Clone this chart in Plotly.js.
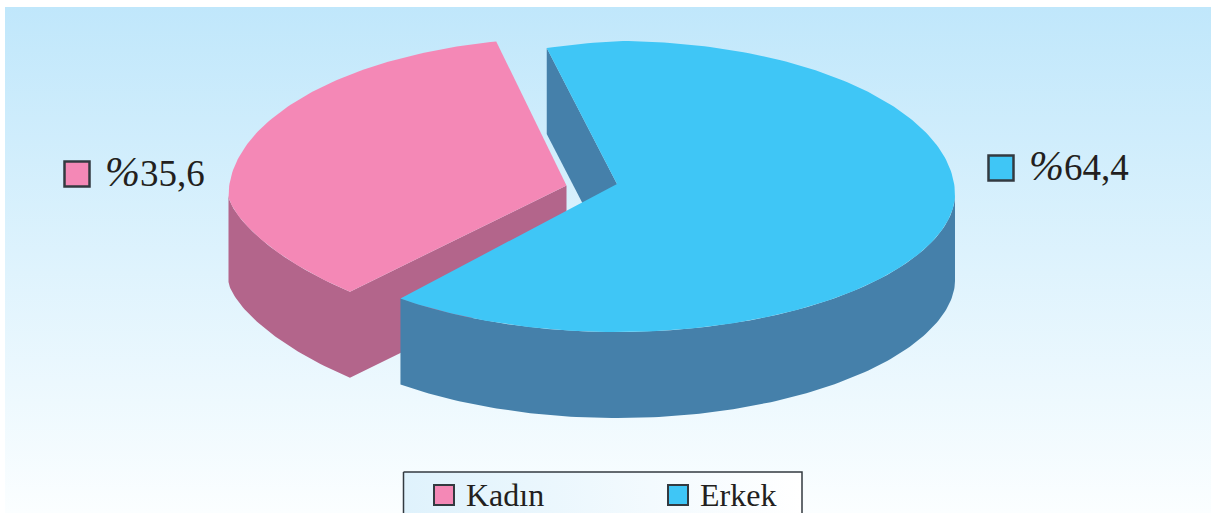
<!DOCTYPE html>
<html><head><meta charset="utf-8">
<script src="https://cdn.plot.ly/plotly-3.0.1.min.js"></script>
<style>html,body{margin:0;padding:0;background:#fff;overflow:hidden}#c{width:1211px;height:513px}</style>
</head><body><div id="c"></div>
<script>
const categories = ['Kadın', 'Erkek'];
const shares = [35.6, 64.4];
const sliceLabels = ['%35,6', '%64,4'];

const topColors = ['#f488b6', '#3fc6f6'];
const sideColors = ['#b3658b', '#4580aa'];
const ink = '#231f20';
const serif = '"Liberation Serif", serif';

// Projection of the tilted pie (outline is slightly egg-shaped)
const rx = 338, depth = 86;
const kadinGeo = { apex: [566.5, 185.5], cx: 566.5, cy: 196, up: 158, down: 137, e: 0.68, skew: 0 };
const erkekGeo = { apex: [617, 184], cx: 617, cy: 195, up: 154, down: 137, e: 0.53, skew: 18 };
const boundary = 102;               // degrees: edge shared by the slices, upper left
const erkekSweep = shares[1] * 3.6;
const kadinSweep = shares[0] * 3.6;

const rad = d => d * Math.PI / 180;
function pt(g, t, dz = 0) {
  const c = Math.cos(rad(t)), s = Math.sin(rad(t));
  let y = g.cy;
  if (s >= 0) y += -g.up * s + (c < 0 ? -g.skew * c : 0);
  else y += g.down * Math.pow(-s, 2 * g.e);
  return [g.cx + rx * c, y + dz];
}
function arc(g, a, b, dz = 0) {
  const n = Math.max(2, Math.ceil(Math.abs(b - a))), out = [];
  for (let i = 0; i <= n; i++) out.push(pt(g, a + (b - a) * i / n, dz));
  return out;
}
function poly(points, color) {
  const p = points.concat([points[0]]);
  return { type: 'scatter', mode: 'lines', x: p.map(q => q[0]), y: p.map(q => q[1]),
    fill: 'toself', fillcolor: color, line: { width: 0, color: color }, hoverinfo: 'skip', showlegend: false };
}
function gradientBox(x0, x1, y0, y1, type, scale, line) {
  return { type: 'scatter', mode: 'lines', x: [x0, x1, x1, x0, x0], y: [y0, y0, y1, y1, y0], fill: 'toself',
    fillgradient: { type: type, colorscale: scale },
    line: line || { width: 0 }, hoverinfo: 'skip', showlegend: false };
}
function swatch(x, y, i, size, w) {
  return { type: 'scatter', mode: 'markers', x: [x], y: [y], hoverinfo: 'skip', showlegend: false,
    marker: { symbol: 'square', size: size, color: topColors[i], line: { color: '#333a40', width: w } } };
}

const kA = boundary, kB = boundary + kadinSweep;     // Kadın: counter-clockwise from the boundary
const eA = boundary, eB = boundary - erkekSweep;     // Erkek: clockwise from the boundary
const kApex = kadinGeo.apex, eApex = erkekGeo.apex;

const traces = [
  gradientBox(5, 1211, 7, 513, 'vertical', [[0, '#fbfeff'], [1, '#c0e7fb']]),
  // Kadın body: rim and inner wall as one outline
  poly(arc(kadinGeo, 180, kB).concat([kApex, [kApex[0], kApex[1] + depth]], arc(kadinGeo, kB, 180, depth)), sideColors[0]),
  poly([kApex].concat(arc(kadinGeo, kA, kB)), topColors[0]),
  // Erkek body
  poly([pt(erkekGeo, eA), eApex, [eApex[0], eApex[1] + depth], pt(erkekGeo, eA, depth)], sideColors[1]),
  poly(arc(erkekGeo, 0, eB).concat(arc(erkekGeo, eB, 0, depth)), sideColors[1]),
  poly([eApex].concat(arc(erkekGeo, eA, eB)), topColors[1]),
  // Legend box
  gradientBox(403.5, 802, 472, 530, 'horizontal', [[0, '#dff2fc'], [1, '#ffffff']], { width: 1.5, color: '#333a40' }),
  swatch(77, 174, 0, 25, 2.5), swatch(1001, 168, 1, 25, 2.5),
  swatch(444, 495, 0, 20, 2), swatch(678, 495, 1, 20, 2)
];

const label = (x, y, text, size) => ({ x, y, text, xref: 'x', yref: 'y', xanchor: 'left', yanchor: 'middle',
  showarrow: false, font: { family: serif, size, color: ink } });
const styled = s => s.replace('%', '<span style="font-size:42px"><i>%</i></span>');

const layout = {
  width: 1211, height: 513, margin: { l: 0, r: 0, t: 0, b: 0 },
  paper_bgcolor: '#fff', plot_bgcolor: 'rgba(0,0,0,0)', showlegend: false,
  xaxis: { range: [0, 1211], visible: false, fixedrange: true },
  yaxis: { range: [513, 0], visible: false, fixedrange: true },
  annotations: [
    label(103, 172, styled(sliceLabels[0]), 37),
    label(1027, 166, styled(sliceLabels[1]), 37),
    label(464, 495, categories[0], 32),
    label(698, 495, categories[1], 32)
  ]
};
Plotly.newPlot('c', traces, layout, { displayModeBar: false, staticPlot: true });
</script></body></html>
